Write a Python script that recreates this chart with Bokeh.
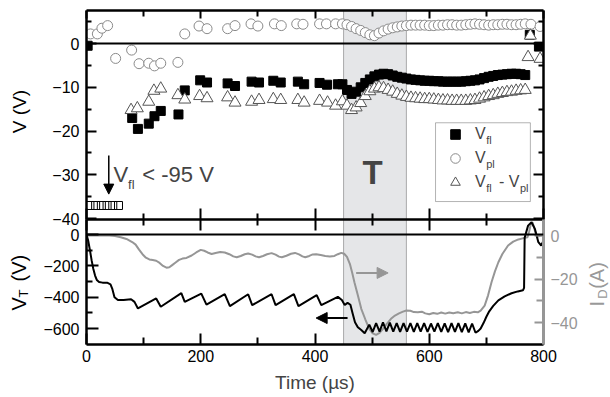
import math
from bokeh.plotting import figure
from bokeh.models import (Range1d, LinearAxis, FixedTicker, BoxAnnotation, Span, Label,
                          Arrow, NormalHead, Legend, LegendItem, CustomJSTickFormatter)
from bokeh.layouts import column, row
from bokeh.embed import file_html
from bokeh.resources import INLINE

FONT = "Liberation Sans"
GRAY = "#969696"
SHADE = "#e5e6e8"

# ---------------- data ----------------
# floating potential V_fl (V)
t_fl = [2, 80, 90, 109, 119, 130, 161, 172, 199, 211, 247, 260, 289, 302, 327, 340, 370, 381, 408, 421, 440,
        448, 456, 464, 472, 480, 488, 496, 504, 512, 520, 528, 536, 544, 552, 560, 568, 576, 584, 592, 600,
        608, 616, 624, 632, 640, 648, 656, 664, 672, 680, 688, 696, 704, 712, 720, 728, 736, 744, 752, 760,
        768, 776, 792]
v_fl = [-0.5, -17.0, -19.5, -18.3, -16.6, -15.4, -16.2, -10.7, -8.4, -8.9, -9.1, -9.7, -8.7, -8.9, -8.5, -8.9,
        -8.7, -9.3, -9.0, -9.4, -9.3,
        -9.3, -10.6, -11.5, -11.0, -10.0, -9.0, -8.2, -7.5, -7.1, -6.9, -7.0, -7.3, -7.6, -7.8, -8.0, -8.2,
        -8.3, -8.4, -8.5, -8.5, -8.6, -8.6, -8.7, -8.7, -8.7, -8.7, -8.7, -8.6, -8.5, -8.4, -8.2, -7.9, -7.6,
        -7.4, -7.2, -7.1, -7.0, -6.9, -6.9, -7.0, -7.2, 2.0, -0.7]
# V_fl below -95 V (plotted at the bottom edge)
t_fl_low = [6, 16, 26, 36, 46, 56]
v_fl_low = [-37.0, -37.0, -37.0, -37.0, -37.0, -37.0]

# plasma potential V_pl (V)
t_pl = [7, 19, 27, 37, 51, 79, 92, 109, 119, 130, 160, 172, 197, 211, 247, 260, 288, 300, 329, 341, 368, 379,
        408, 420, 436,
        448, 456, 464, 472, 480, 488, 496, 504, 512, 520, 528, 536, 544, 552, 560, 568, 576, 584, 592, 600,
        608, 616, 624, 632, 640, 648, 656, 664, 672, 680, 688, 696, 704, 712, 720, 728, 736, 744, 752, 760,
        768, 778, 794]
v_pl = [2.2, 2.2, 3.5, 4.1, -3.4, -1.5, -4.6, -4.5, -5.1, -4.5, -4.3, 2.2, 4.0, 3.4, 3.4, 4.1, 4.5, 4.0, 4.5,
        4.1, 4.5, 4.4, 4.5, 4.5, 4.5,
        4.5, 4.3, 3.9, 3.4, 3.0, 2.5, 2.0, 1.8, 2.4, 2.9, 3.3, 3.6, 3.8, 4.0, 4.1, 4.2, 4.2, 4.2, 4.2, 4.1,
        4.1, 4.2, 4.2, 4.3, 4.3, 4.2, 4.2, 4.3, 4.4, 4.5, 4.4, 4.3, 4.2, 4.3, 4.3, 4.4, 4.4, 4.3, 4.3, 4.4,
        4.5, 4.4, 3.9]

# V_fl - V_pl (V)
t_df = [78, 89, 109, 118, 130, 160, 172, 198, 211, 247, 260, 289, 302, 327, 340, 370, 381, 408, 422, 436,
        448, 456, 464, 472, 480, 488, 496, 504, 512, 520, 528, 536, 544, 552, 560, 568, 576, 584, 592, 600,
        608, 616, 624, 632, 640, 648, 656, 664, 672, 680, 688, 696, 704, 712, 720, 728, 736, 744, 752, 760,
        768, 773, 777, 794]
v_df = [-15.2, -14.8, -13.3, -10.8, -10.3, -11.8, -12.8, -12.0, -12.5, -12.3, -13.5, -13.3, -12.9, -12.7,
        -12.9, -12.9, -13.5, -13.1, -13.5, -14.2,
        -13.2, -14.2, -15.2, -14.6, -13.6, -12.0, -10.9, -10.3, -10.0, -10.2, -10.6, -11.0, -11.5, -11.9,
        -12.2, -12.4, -12.5, -12.6, -12.7, -12.7, -12.8, -12.9, -13.0, -13.0, -13.1, -13.1, -13.1, -13.1,
        -13.0, -12.9, -12.6, -12.3, -12.0, -11.8, -11.5, -11.3, -11.1, -11.0, -10.8, -10.7, -10.6, -3.1,
        1.8, -3.5]

# target voltage V_T (V)
t_vt = [0, 3, 6, 9, 12, 15, 18, 22, 28, 36, 42, 45, 49, 55, 65, 78, 84, 90, 122, 130, 166, 172, 201, 210,
        242, 251, 283, 290, 324, 331, 363, 371, 403, 411, 440, 447, 452, 457, 462, 466, 470, 475, 481, 487,
        495, 501, 507, 513, 519, 525, 531, 537, 543, 549, 555, 561, 567, 573, 579, 585, 591, 597, 603, 609,
        615, 621, 627, 633, 639, 645, 651, 657, 663, 669, 675, 681, 686, 690, 695, 700, 705, 712, 721, 732,
        744, 755, 764, 766, 767, 773, 779, 785, 791, 796, 800]
v_t = [0, -40, -100, -165, -220, -262, -290, -303, -307, -307, -318, -345, -400, -418, -418, -413, -430, -472,
       -408, -461, -374, -430, -377, -447, -381, -457, -381, -451, -381, -451, -381, -457, -387, -451, -398,
       -418, -450, -436, -448, -505, -560, -592, -610, -630, -575, -622, -566, -620, -560, -618, -562, -620,
       -565, -622, -566, -620, -565, -622, -566, -620, -566, -622, -568, -620, -566, -622, -567, -623, -566,
       -622, -566, -623, -567, -625, -568, -627, -615, -600, -565, -525, -490, -455, -420, -395, -375, -363,
       -356, -340, -20, 57, 78, 36, -49, -70, -40]

# discharge current I_D (A)
t_id = [0, 20, 40, 50, 60, 70, 80, 86, 92, 98, 104, 110, 116, 122, 128, 134, 140, 145, 150, 156, 162, 168,
        175, 184, 192, 200, 206, 212, 219, 226, 234, 242, 250, 257, 263, 270, 277, 283, 290, 296, 302, 309,
        316, 324, 331, 337, 342, 350, 358, 365, 372, 378, 383, 390, 396, 402, 410, 418, 426, 434, 440, 446,
        451, 456, 461, 465, 469, 475, 481, 488, 495, 501, 507, 513, 519, 526, 533, 540, 547, 554, 560, 567,
        573, 580, 587, 593, 600, 607, 614, 621, 628, 635, 642, 650, 657, 664, 671, 678, 685, 690, 697, 703,
        709, 715, 721, 728, 738, 747, 756, 765, 772, 775, 778, 781, 784, 787, 790, 795, 800]
i_d = [0, 0, 0, -0.2, -0.8, -1.6, -3.0, -4.2, -6.5, -8.6, -10.2, -11.0, -11.3, -11.6, -12.6, -14.0, -14.8,
       -14.6, -13.6, -12.4, -11.2, -10.6, -10.3, -9.2, -7.8, -6.6, -7.0, -7.8, -8.5, -8.0, -7.6, -7.8, -8.6,
       -9.6, -10.0, -9.4, -8.6, -8.3, -8.8, -9.6, -10.0, -9.4, -8.6, -8.1, -8.8, -9.7, -10.0, -9.3, -8.4,
       -8.0, -8.7, -9.6, -10.0, -9.4, -8.7, -8.6, -9.0, -9.4, -9.6, -9.4, -8.6, -8.0, -8.4, -9.8, -13.0,
       -17.0, -21.5, -27.5, -33.7, -38.5, -42.9, -45.0, -45.7, -44.8, -42.9, -40.5, -38.3, -36.8, -35.8,
       -35.0, -34.5, -34.6, -35.2, -35.3, -35.0, -35.8, -36.2, -35.6, -36.0, -35.4, -35.9, -35.4, -35.7,
       -35.3, -35.8, -35.2, -35.6, -35.1, -35.3, -34.5, -32.2, -27.5, -21.5, -16.5, -12.3, -8.5, -4.6, -2.8,
       -1.8, -1.2, -0.8, 2.0, 5.5, 6.0, 3.0, 0.5, -0.5, 0.0, 0.0]

# shaded interval "T" (µs)
t_region = [450, 560]

x_ticks = [0, 200, 400, 600, 800]
x_minor = [100, 300, 500, 700]
v_ticks = [0, -10, -20, -30, -40]
v_minor = [5, -5, -15, -25, -35]
vt_ticks = [0, -200, -400, -600]
vt_minor = [-100, -300, -500]
id_ticks = [0, -20, -40]
id_minor = [-10, -30]

# ---------------- helpers ----------------
blank = CustomJSTickFormatter(code="return ''")


def style_axis(ax, major_in, minor_in, labels=True, color="black", lw=2.5, standoff=7):
    ax.axis_line_width = lw
    ax.axis_line_color = color
    ax.major_tick_in = major_in
    ax.major_tick_out = 0
    ax.minor_tick_in = minor_in
    ax.minor_tick_out = 0
    ax.major_tick_line_width = 2
    ax.minor_tick_line_width = 2
    ax.major_tick_line_color = color
    ax.minor_tick_line_color = color
    if labels:
        ax.major_label_text_font = FONT
        ax.major_label_text_font_size = "16px"
        ax.major_label_text_color = color
        ax.major_label_standoff = standoff
    else:
        ax.formatter = blank
        ax.major_label_text_font_size = "0px"
        ax.major_label_standoff = 0


def text_fig(w, h):
    f = figure(width=w, height=h, x_range=Range1d(0, w), y_range=Range1d(0, h),
               x_axis_location=None, y_axis_location=None, output_backend="svg",
               toolbar_location=None, min_border=0, min_border_left=0, min_border_right=0,
               min_border_top=0, min_border_bottom=0)
    f.outline_line_color = None
    f.grid.visible = False
    f.border_fill_alpha = 0
    f.background_fill_alpha = 0
    return f


def side_label(f, text, x, y, size, color="black", align="left"):
    # x = centre line of the rotated text, y = its start, both screen offsets from the strip's left / bottom
    f.add_layout(Label(x=x, y=y, x_units="screen", y_units="screen", text=text, text_font=FONT,
                       text_font_size=size, text_color=color, angle=math.pi / 2, text_align=align,
                       text_baseline="middle"))


x_range = Range1d(0, 800)

# ---------------- top panel ----------------
p1 = figure(width=542, height=228, x_range=x_range, y_range=Range1d(-40.2, 7.55),
            output_backend="svg", toolbar_location=None,
            min_border_left=46, min_border_right=39, min_border_top=10, min_border_bottom=9)
p1.outline_line_color = None
p1.xgrid.visible = False
p1.ygrid.visible = False

p1.xaxis.ticker = FixedTicker(ticks=x_ticks, minor_ticks=x_minor)
style_axis(p1.xaxis[0], 11, 6, labels=False)
p1.yaxis.ticker = FixedTicker(ticks=v_ticks, minor_ticks=v_minor)
style_axis(p1.yaxis[0], 10, 5, labels=True)

ax = LinearAxis(ticker=FixedTicker(ticks=x_ticks, minor_ticks=x_minor))
style_axis(ax, 8, 6, labels=False)
p1.add_layout(ax, "above")
ay = LinearAxis(ticker=FixedTicker(ticks=v_ticks, minor_ticks=v_minor))
style_axis(ay, 10, 5, labels=False)
p1.add_layout(ay, "right")

p1.add_layout(BoxAnnotation(left=t_region[0], right=t_region[1], fill_color=SHADE, fill_alpha=1,
                            line_color="black", line_width=1, level="underlay"))
p1.add_layout(Span(location=0, dimension="width", line_color="black", line_width=2))

r_fl = p1.scatter(t_fl, v_fl, marker="square", size=9, fill_color="black", line_color="black")
p1.scatter(t_fl_low, v_fl_low, marker="square", size=8, fill_color=None, line_color="black", line_width=1)
r_pl = p1.scatter(t_pl, v_pl, marker="circle", size=10, fill_color="white", line_color="#8a8a8a",
                  line_width=1)
r_df = p1.scatter(t_df, v_df, marker="triangle", size=12, fill_color="white", line_color="#555555",
                  line_width=1)

# legend frame (white box), then a transparent legend on top of it
p1.add_layout(BoxAnnotation(left=611, right=777, top=-18.1, bottom=-36.1, fill_color="white", fill_alpha=1,
                            line_color="black", line_width=1))
legend = Legend(items=[LegendItem(label="V", renderers=[r_fl]),
                       LegendItem(label="V", renderers=[r_pl]),
                       LegendItem(label="V   - V  ", renderers=[r_df])],
                location=(352, 25), border_line_color=None, background_fill_alpha=0,
                padding=0, spacing=0, margin=0, glyph_width=34, glyph_height=24, label_height=24,
                label_standoff=3, label_text_font=FONT, label_text_font_size="16px")
p1.add_layout(legend)

for txt, x, y in [("fl", 399.7, 79.3), ("pl", 399.7, 55.3), ("fl", 399.7, 31.3), ("pl", 433.5, 31.3)]:
    p1.add_layout(Label(x=x, y=y, x_units="screen", y_units="screen", text=txt, text_font=FONT,
                        text_font_size="11px", text_align="left", text_baseline="middle"))

# annotation V_fl < -95 V
p1.add_layout(Arrow(x_start=39, y_start=-25.6, x_end=39, y_end=-34.4, line_color="black", line_width=1.5,
                    end=NormalHead(size=10, fill_color="black", line_color="black")))
p1.add_layout(Label(x=47.4, y=-30.0, text="V", text_font=FONT, text_font_size="22px",
                    text_baseline="middle"))
p1.add_layout(Label(x=72.8, y=-32.1, text="fl", text_font=FONT, text_font_size="13px",
                    text_baseline="middle"))
p1.add_layout(Label(x=97.7, y=-30.0, text="< -95 V", text_font=FONT, text_font_size="22px",
                    text_baseline="middle"))
p1.add_layout(Label(x=501, y=-29.4, text="T", text_font=FONT, text_font_size="33px", text_font_style="bold",
                    text_align="center", text_baseline="middle"))

# ---------------- bottom panel ----------------
p2 = figure(width=542, height=178, x_range=x_range, y_range=Range1d(-702, 96),
            output_backend="svg", toolbar_location=None,
            min_border_left=46, min_border_right=39, min_border_top=0, min_border_bottom=53)
p2.outline_line_color = None
p2.xgrid.visible = False
p2.ygrid.visible = False
p2.border_fill_alpha = 0
p2.extra_y_ranges = {"id": Range1d(-50.1, 7.36)}

p2.xaxis.ticker = FixedTicker(ticks=x_ticks, minor_ticks=x_minor)
style_axis(p2.xaxis[0], 11, 7, labels=True, standoff=5)
p2.xaxis.axis_label = "Time (µs)"
p2.xaxis.axis_label_text_font = FONT
p2.xaxis.axis_label_text_font_size = "19px"
p2.xaxis.axis_label_text_font_style = "normal"
p2.xaxis.axis_label_standoff = 7
p2.yaxis.ticker = FixedTicker(ticks=vt_ticks, minor_ticks=vt_minor)
style_axis(p2.yaxis[0], 12, 6, labels=True)

bx = LinearAxis(ticker=FixedTicker(ticks=x_ticks, minor_ticks=x_minor))
style_axis(bx, 11, 6, labels=False)
p2.add_layout(bx, "above")
by = LinearAxis(y_range_name="id", ticker=FixedTicker(ticks=id_ticks, minor_ticks=id_minor))
style_axis(by, 9, 7, labels=True, color=GRAY, lw=3)
p2.add_layout(by, "right")

p2.add_layout(BoxAnnotation(left=t_region[0], right=t_region[1], fill_color=SHADE, fill_alpha=1,
                            line_color="black", line_width=1, level="underlay"))
p2.add_layout(Span(location=0, dimension="width", line_color="black", line_width=2))

p2.line(t_id, i_d, y_range_name="id", line_color=GRAY, line_width=2)
p2.line(t_vt, v_t, line_color="black", line_width=2)

p2.add_layout(Arrow(x_start=472, y_start=-17.2, x_end=528, y_end=-17.2, y_range_name="id",
                    line_color=GRAY, line_width=2,
                    end=NormalHead(size=11, fill_color=GRAY, line_color=GRAY)))
p2.add_layout(Arrow(x_start=457, y_start=-533, x_end=402, y_end=-533, line_color="black", line_width=2,
                    end=NormalHead(size=11, fill_color="black", line_color="black")))
p2.margin = (-9, 0, 0, 0)

# ---------------- side strips holding the rotated axis titles ----------------
labL = text_fig(40, 397)
side_label(labL, "V (V)", 19.4, 286, "19px", align="center")
side_label(labL, "V", 18, 87, "20px")
side_label(labL, "T", 23, 100, "13px")
side_label(labL, "(V)", 18, 116, "20px")

labR = text_fig(28, 397)
side_label(labR, "I", 14.6, 91, "20px", color="#999999")
side_label(labR, "D", 20, 98.7, "13px", color="#999999")
side_label(labR, "(A)", 14.6, 108.7, "20px", color="#999999")

layout = row(labL, column(p1, p2, spacing=0), labR, spacing=0)
open("out.html", "w").write(file_html(layout, INLINE))
